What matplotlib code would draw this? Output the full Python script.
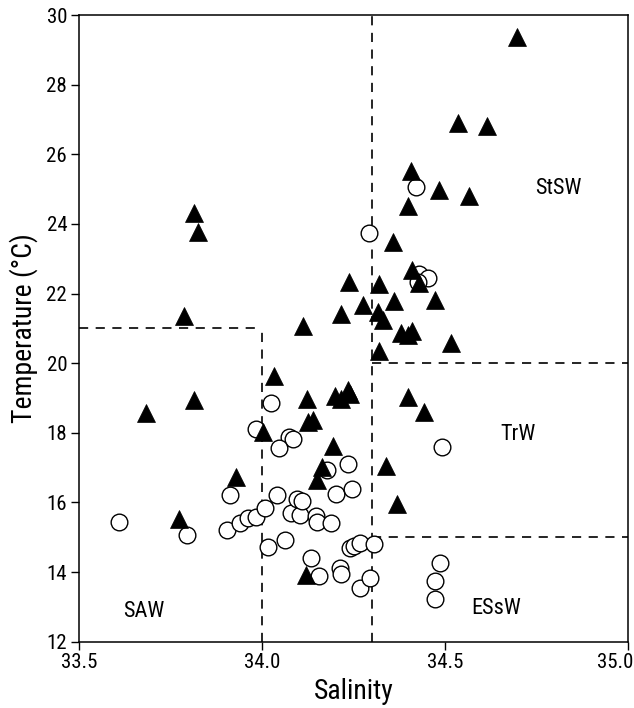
import matplotlib
matplotlib.use('Agg')
import matplotlib.pyplot as plt
from matplotlib import font_manager
from matplotlib.transforms import ScaledTranslation

# filled triangles: salinity, temperature
tri_sal = [33.814, 33.826, 33.787, 33.682, 33.815, 33.774, 33.930, 34.004, 34.034, 34.111,
           34.122, 34.127, 34.140, 34.195, 34.163, 34.149, 34.120, 34.200, 34.215, 34.235,
           34.240, 34.215, 34.237, 34.277, 34.320, 34.318, 34.330, 34.320, 34.380, 34.410,
           34.400, 34.361, 34.473, 34.516, 34.357, 34.400, 34.407, 34.484, 34.566, 34.536,
           34.614, 34.698, 34.411, 34.430, 34.398, 34.443, 34.339, 34.368]
tri_temp = [24.32, 23.78, 21.34, 18.58, 18.95, 15.52, 16.74, 18.01, 19.62, 21.08,
            18.97, 18.30, 18.38, 17.62, 17.03, 16.65, 13.92, 19.05, 18.98, 19.22,
            19.10, 21.40, 22.32, 21.67, 22.27, 21.48, 21.25, 20.35, 20.86, 20.93,
            20.80, 21.78, 21.82, 20.57, 23.48, 24.50, 25.53, 24.98, 24.79, 26.91,
            26.80, 29.37, 22.68, 22.30, 19.04, 18.61, 17.05, 15.96]

# open circles
circ_sal = [33.610, 33.796, 33.904, 33.940, 33.961, 33.984, 33.913, 34.008, 34.017, 34.063,
            34.040, 34.024, 33.983, 34.075, 34.086, 34.047, 34.078, 34.104, 34.095, 34.108,
            34.148, 34.149, 34.188, 34.133, 34.157, 34.177, 34.236, 34.202, 34.245, 34.212,
            34.215, 34.268, 34.295, 34.240, 34.252, 34.268, 34.307, 34.486, 34.473, 34.473,
            34.493, 34.293, 34.420, 34.430, 34.454, 34.425]
circ_temp = [15.43, 15.07, 15.20, 15.42, 15.54, 15.59, 16.21, 15.85, 14.72, 14.92,
             16.22, 18.85, 18.10, 17.88, 17.81, 17.55, 15.71, 15.65, 16.10, 16.04,
             15.60, 15.45, 15.40, 14.39, 13.88, 16.93, 17.10, 16.24, 16.38, 14.13,
             13.94, 13.55, 13.83, 14.68, 14.76, 14.82, 14.81, 14.27, 13.74, 13.22,
             17.60, 23.74, 25.05, 22.55, 22.44, 22.32]

water_masses = ['StSW', 'TrW', 'ESsW', 'SAW']
label_pos = [(34.81, 25.03), (34.70, 17.94), (34.64, 12.96), (33.676, 12.86)]

# a narrow sans if there is one, else condensed DejaVu
names = {f.name for f in font_manager.fontManager.ttflist}
narrow = [n for n in ['Liberation Sans Narrow', 'Arial Narrow', 'Roboto Condensed'] if n in names]
plt.rcParams['font.family'] = narrow + ['DejaVu Sans']
plt.rcParams['font.stretch'] = 'condensed'


def main():
    fig = plt.figure(figsize=(6.34, 7.08), dpi=100)
    ax = fig.add_axes([0.1246, 0.0937, 0.8659, 0.8851])

    dash = dict(color='black', lw=1.2, dashes=(5.5, 4.5))
    ax.plot([33.5, 34.0], [21, 21], **dash)
    ax.plot([34.0, 34.0], [12, 21], **dash)
    ax.plot([34.3, 34.3], [12, 30], **dash)
    ax.plot([34.3, 35.0], [20, 20], **dash)
    ax.plot([34.3, 35.0], [15, 15], **dash)

    ax.plot(circ_sal, circ_temp, 'o', ms=12, mfc='white', mec='black', mew=1.0, ls='none')
    ax.plot(tri_sal, tri_temp, '^', ms=12.5, mfc='black', mec='black', mew=0.5, ls='none')

    fs_tick, fs_lab, fs_txt = (15, 20, 16) if narrow else (12.5, 17, 14)
    for name, (x, y) in zip(water_masses, label_pos):
        ax.text(x, y, name, fontsize=fs_txt, ha='center', va='center')

    ax.set_xlim(33.5, 35.0)
    ax.set_ylim(12, 30)
    ax.set_xticks([33.5, 34.0, 34.5, 35.0])
    ax.set_xticklabels(['33.5', '34.0', '34.5', '35.0'])
    ax.set_yticks(range(12, 31, 2))
    ax.tick_params(direction='out', length=5.5, width=1, pad=3, labelsize=fs_tick)
    for s in ax.spines.values():
        s.set_linewidth(1.1)

    # last x label pulled left so it stays inside the picture
    last = ax.get_xticklabels()[-1]
    last.set_transform(last.get_transform() + ScaledTranslation(-9 / 72, 0, fig.dpi_scale_trans))

    ax.set_xlabel('Salinity', fontsize=fs_lab, labelpad=4)
    ax.set_ylabel('Temperature (°C)', fontsize=fs_lab, labelpad=6)

    fig.savefig('out.png', dpi=100)


if __name__ == '__main__':
    main()
